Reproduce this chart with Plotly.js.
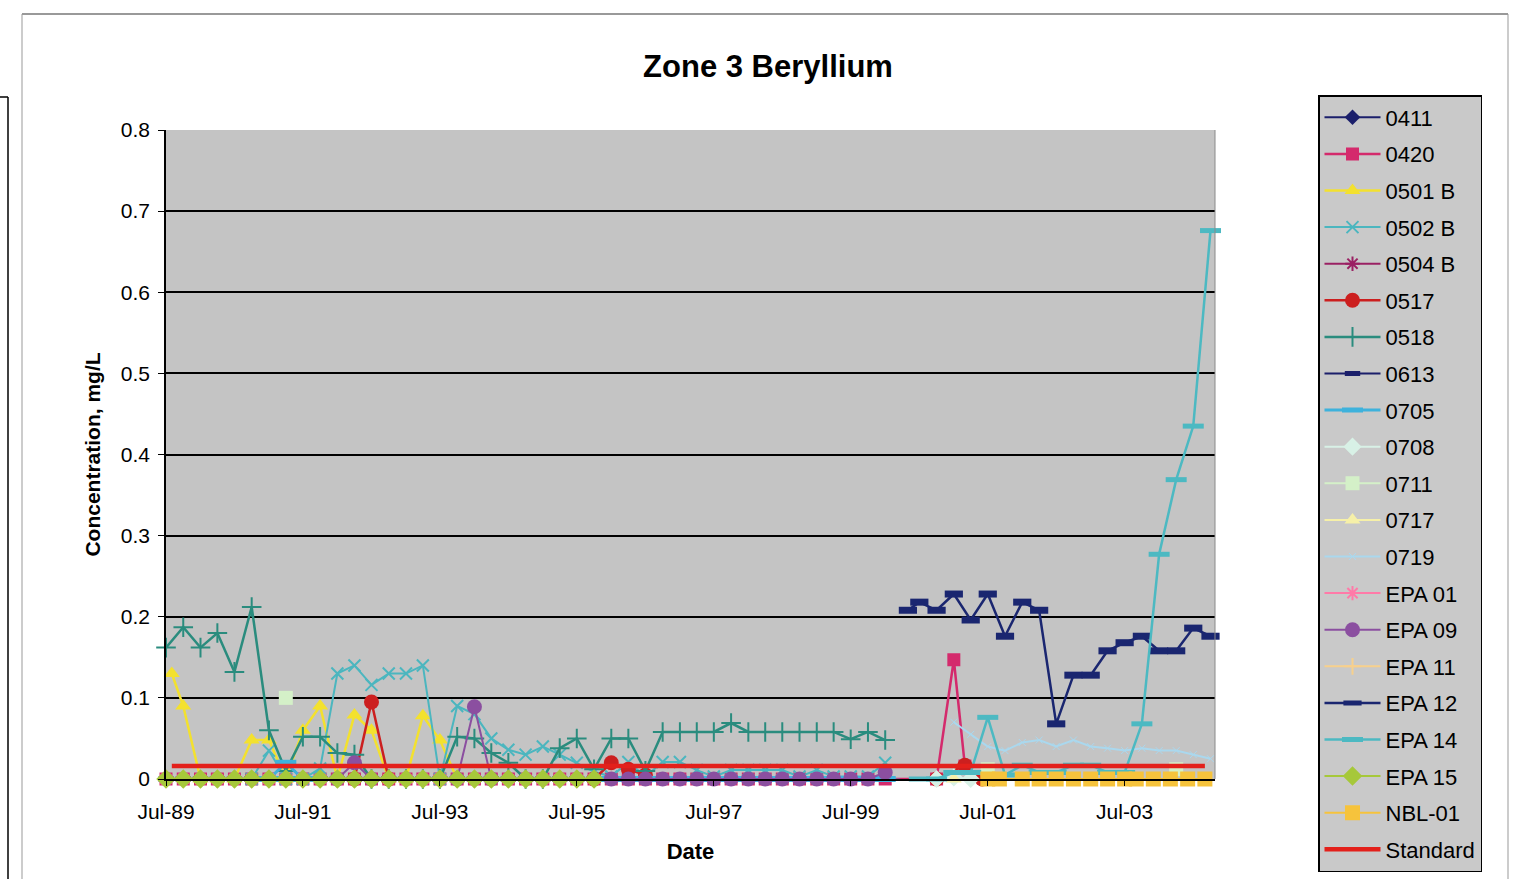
<!DOCTYPE html>
<html><head><meta charset="utf-8">
<script src="https://cdn.plot.ly/plotly-3.0.1.min.js"></script>
<style>html,body{margin:0;padding:0;background:#fff;overflow:hidden;width:1515px;height:879px}#chart{width:1515px;height:930px}</style>
</head><body><div id="chart"></div><script>
// ---- data ----
const baseDates = ['1989-07','1989-10','1990-01','1990-04','1990-07','1990-10','1991-01','1991-04','1991-07','1991-10','1992-01','1992-04','1992-07','1992-10','1993-01','1993-04','1993-07','1993-10','1994-01','1994-04','1994-07','1994-10','1995-01','1995-04','1995-07','1995-10'];
const baseZeros = [0,0,0,0,0,0,0,0,0,0,0,0,0,0,0,0,0,0,0,0,0,0,0,0,0,0];

const d0420 = ['1989-07','1989-10','1990-01','1990-04','1990-07','1990-10','1991-01','1991-04','1991-07','1991-10','1992-01','1992-04','1992-07','1992-10','1993-01','1993-04','1993-07','1993-10','1994-01','1994-04','1994-07','1994-10','1995-01','1995-04','1995-07','1995-10','1996-01','1996-04','1996-07','1996-10','1997-01','1997-04','1997-07','1997-10','1998-01','1998-04','1998-07','1998-10','1999-01','1999-04','1999-07','1999-10','2000-01','2000-10','2001-01','2001-03'];
const v0420 = [0,0,0,0,0,0,0,0,0,0,0,0,0,0,0,0,0,0,0,0,0,0,0,0,0,0,0,0,0,0,0,0,0,0,0,0,0,0,0,0,0,0,0,0,0.147,0.016];

const d0501B = ['1989-08','1989-10','1990-01','1990-04','1990-07','1990-10','1991-01','1991-04','1991-07','1991-10','1992-01','1992-04','1992-07','1992-10','1993-01','1993-04','1993-07','1993-10'];
const v0501B = [0.13,0.09,0,0,0,0.048,0.048,0,0.06,0.09,0,0.079,0.06,0,0,0.078,0.048,0];

const d0502B = ['1990-10','1991-01','1991-04','1991-07','1991-10','1992-01','1992-04','1992-07','1992-10','1993-01','1993-04','1993-07','1993-10','1994-01','1994-04','1994-07','1994-10','1995-01','1995-04','1995-07','1995-10','1996-01','1996-04','1996-07','1996-10','1997-01','1997-04','1997-07','1997-10','1998-01','1998-04','1998-07','1998-10','1999-01','1999-04','1999-07','1999-10','2000-01'];
const v0502B = [0,0.035,0,0,0.013,0.13,0.14,0.116,0.13,0.13,0.14,0,0.09,0.08,0.05,0.036,0.03,0.04,0.03,0.02,0.009,0.003,0.021,0.003,0.021,0.021,0.011,0.003,0.011,0.011,0.011,0.011,0.003,0.011,0.003,0.003,0.003,0.02];

const d0517 = ['1992-04','1992-07','1992-10','1993-06','1995-10','1996-01','1996-04','1996-07','1998-01','2000-10','2001-03','2001-06'];
const v0517 = [0,0.095,0,null,0,0.02,0.012,0.005,null,0,0.017,0];

const d0518 = ['1989-07','1989-10','1990-01','1990-04','1990-07','1990-10','1991-01','1991-04','1991-07','1991-10','1992-01','1992-04','1992-07','1992-10','1993-01','1993-04','1993-07','1993-10','1994-01','1994-04','1994-07','1994-10','1995-01','1995-04','1995-07','1995-10','1996-01','1996-04','1996-07','1996-10','1997-01','1997-04','1997-07','1997-10','1998-01','1998-04','1998-07','1998-10','1999-01','1999-04','1999-07','1999-10','2000-01'];
const v0518 = [0.162,0.187,0.162,0.18,0.132,0.212,0.06,0.01,0.052,0.052,0.032,0.03,0,0,0,0,0,0.052,0.05,0.032,0.02,0,0,0.038,0.05,0.012,0.05,0.05,0.01,0.058,0.058,0.058,0.058,0.069,0.058,0.058,0.058,0.058,0.058,0.058,0.049,0.058,0.048];

const d0705 = ['1991-01','1991-04','1991-07','1993-01','1996-01','1996-04','1996-07','1996-10','1997-01','1997-04','1997-07','1997-10','1998-01','1998-04','1998-07','1998-10','1999-01','1999-04','1999-07','1999-10','2000-01','2000-04','2000-07','2000-10'];
const v0705 = [0,0.02,0,null,0,0,0,0,0,0,0,0,0,0,0,0,0,0,0,0,0,-0.002,-0.002,-0.002];

const d0708 = ['2000-10','2001-01','2001-04'];
const v0708 = [0,0.002,0];

const d0711 = ['1991-04','1996-01','2001-07','2002-01','2004-04'];
const v0711 = [0.1,null,0.012,null,0.012];

const d0717 = ['2001-01','2001-04'];
const v0717 = [0,-0.003];

const d0719 = ['2001-01','2001-04','2001-07','2001-10','2002-01','2002-04','2002-07','2002-10','2003-01','2003-04','2003-07','2003-10','2004-01','2004-04','2004-07','2004-10'];
const v0719 = [0.07,0.055,0.04,0.035,0.045,0.048,0.04,0.048,0.04,0.038,0.035,0.038,0.035,0.035,0.03,0.025];

const dEPA09 = ['1992-01','1992-04','1992-07','1993-01','1993-10','1994-01','1994-04','1995-01','1996-01','1996-04','1996-07','1996-10','1997-01','1997-04','1997-07','1997-10','1998-01','1998-04','1998-07','1998-10','1999-01','1999-04','1999-07','1999-10','2000-01'];
const vEPA09 = [0,0.02,0,null,0,0.089,0,null,0,0,0,0,0,0,0,0,0,0,0,0,0,0,0,0,0.008];

const dEPA12 = ['2000-05','2000-07','2000-10','2001-01','2001-04','2001-07','2001-10','2002-01','2002-04','2002-07','2002-10','2003-01','2003-04','2003-07','2003-10','2004-01','2004-04','2004-07','2004-10'];
const vEPA12 = [0.208,0.218,0.208,0.228,0.196,0.228,0.176,0.218,0.208,0.068,0.128,0.128,0.158,0.168,0.176,0.158,0.158,0.186,0.176];

const dEPA14 = ['2000-07','2000-10','2001-01','2001-04','2001-07','2001-10','2002-01','2002-04','2002-07','2002-10','2003-01','2003-04','2003-07','2003-10','2004-01','2004-04','2004-07','2004-10'];
const vEPA14 = [0,0,0.008,0.008,0.076,0.005,0.017,0.008,0.008,0.017,0.017,0.008,0.008,0.068,0.277,0.369,0.435,0.676];

const dNBL = ['2001-07','2001-09','2002-01','2002-04','2002-07','2002-10','2003-01','2003-04','2003-07','2003-09','2003-12','2004-03','2004-06','2004-09'];
const vNBL = [0,0,0,0,0,0,0,0,0,0,0,0,0,0];

const dStd = ['1989-08','2004-09'];
const vStd = [0.016,0.016];

const xTickDates = ['1989-07-01','1991-07-01','1993-07-01','1995-07-01','1997-07-01','1999-07-01','2001-07-01','2003-07-01'];
const xTickText = ['Jul-89','Jul-91','Jul-93','Jul-95','Jul-97','Jul-99','Jul-01','Jul-03'];

// ---- traces ----
function tr(name, x, y, color, symbol, size, lw, mlw) {
  const open = /thin|line|asterisk/.test(symbol);
  return {
    type:'scatter', mode:'lines+markers', name:name, x:x, y:y, legendgroup:name,
    connectgaps:false, cliponaxis:false,
    line:{color:color, width:lw},
    marker: open ? {symbol:symbol, size:size, color:color, line:{color:color, width:mlw||2}}
                 : {symbol:symbol, size:size, color:color, line:{width:0}}
  };
}
const traces = [
  tr('0411', baseDates, baseZeros, '#1b1f6b', 'diamond', 12, 2),
  tr('0420', d0420, v0420, '#d42a6c', 'square', 13, 2.5),
  tr('0501 B', d0501B, v0501B, '#f3e12e', 'triangle-up', 14, 2.5),
  tr('0502 B', d0502B, v0502B, '#4bb6bf', 'x-thin', 12, 2, 2),
  tr('0504 B', baseDates, baseZeros, '#9a2063', 'asterisk', 12, 2, 2),
  tr('0517', d0517, v0517, '#cc1f1f', 'circle', 15, 2.5),
  tr('0518', d0518, v0518, '#2a8c7e', 'cross-thin', 14, 2.5, 2),
  tr('0613', baseDates, baseZeros, '#1b1f6b', 'line-ew', 11, 2, 5),
  tr('0705', d0705, v0705, '#3eb2dc', 'line-ew', 15, 3, 6),
  tr('0708', d0708, v0708, '#d8f1e6', 'diamond', 14, 2),
  tr('0711', d0711, v0711, '#d4f0c8', 'square', 14, 2),
  tr('0717', d0717, v0717, '#f6f0a8', 'triangle-up', 14, 2),
  tr('0719', d0719, v0719, '#aad8ee', 'x-thin', 7, 2, 1),
  tr('EPA 01', baseDates, baseZeros, '#ff7aa8', 'asterisk', 12, 2, 2),
  tr('EPA 09', dEPA09, vEPA09, '#8b4fa0', 'circle', 15, 2),
  tr('EPA 11', baseDates, baseZeros, '#f7d08c', 'cross-thin', 12, 2, 2),
  tr('EPA 12', dEPA12, vEPA12, '#1a2670', 'line-ew', 13, 2.5, 7),
  tr('EPA 14', dEPA14, vEPA14, '#4cb9c2', 'line-ew', 15, 2.5, 5),
  tr('EPA 15', baseDates, baseZeros, '#a6c83a', 'diamond', 15, 2),
  tr('NBL-01', dNBL, vNBL, '#f6c33c', 'square', 15, 2),
  {type:'scatter', mode:'lines', name:'Standard', x:dStd, y:vStd, legendgroup:'Standard', cliponaxis:false,
   line:{color:'#e3201b', width:4.5}}
];

// paper coordinate helpers for frame shapes (plot area: x 166..1215, y 130..779)
const px = v => (v-166)/1049, py = v => (779-v)/649;

const layout = {
  width:1515, height:930,
  margin:{l:166, r:300, t:130, b:151, pad:0},
  paper_bgcolor:'#ffffff', plot_bgcolor:'#c4c4c4',
  font:{family:'"Liberation Sans", Arial, sans-serif', color:'#000'},
  title:{text:'<b>Zone 3 Beryllium</b>', font:{size:31, color:'#000'}, xref:'container', yref:'container', x:768/1515, xanchor:'center', y:1-66/930, yanchor:'middle'},
  showlegend:true,
  legend:{x:px(1318), xanchor:'left', y:py(95), yanchor:'top', bgcolor:'#c9c9c9', bordercolor:'#000', borderwidth:1.5,
          font:{size:22, color:'#000'}, tracegroupgap:5.0, itemwidth:56, traceorder:'grouped', maxheight:900},
  xaxis:{type:'date', range:['1989-07-01','2004-10-25'], tickmode:'array', tickvals:xTickDates, ticktext:xTickText,
         tickfont:{size:21}, ticks:'outside', ticklen:5, tickcolor:'#000', ticklabelstandoff:8, showgrid:false, zeroline:false,
         showline:true, linecolor:'#000', linewidth:1.5,
         title:{text:'<b>Date</b>', font:{size:22}, standoff:22}},
  yaxis:{range:[0,0.8], dtick:0.1, tick0:0, tickfont:{size:21}, ticks:'outside', ticklen:6, tickcolor:'#000', ticklabelstandoff:4,
         showgrid:true, gridcolor:'#000', gridwidth:2, zeroline:false,
         showline:true, linecolor:'#000', linewidth:1.5,
         title:{text:'<b>Concentration, mg/L</b>', font:{size:21}, standoff:14}},
  shapes:[
    {type:'line', xref:'paper', yref:'paper', x0:1, x1:1, y0:0, y1:1, line:{color:'#8a8a8a', width:1}},
    {type:'line', xref:'paper', yref:'paper', x0:px(22), x1:px(1508), y0:py(14), y1:py(14), line:{color:'#777', width:1.5}},
    {type:'line', xref:'paper', yref:'paper', x0:px(22), x1:px(22), y0:py(14), y1:py(930), line:{color:'#999', width:1}},
    {type:'line', xref:'paper', yref:'paper', x0:px(1508), x1:px(1508), y0:py(14), y1:py(930), line:{color:'#999', width:1}},
    {type:'line', xref:'paper', yref:'paper', x0:px(0), x1:px(8), y0:py(97), y1:py(97), line:{color:'#000', width:1.5}},
    {type:'line', xref:'paper', yref:'paper', x0:px(8), x1:px(8), y0:py(97), y1:py(930), line:{color:'#000', width:1.5}}
  ]
};
Plotly.newPlot('chart', traces, layout, {displayModeBar:false, responsive:false});
</script></body></html>
